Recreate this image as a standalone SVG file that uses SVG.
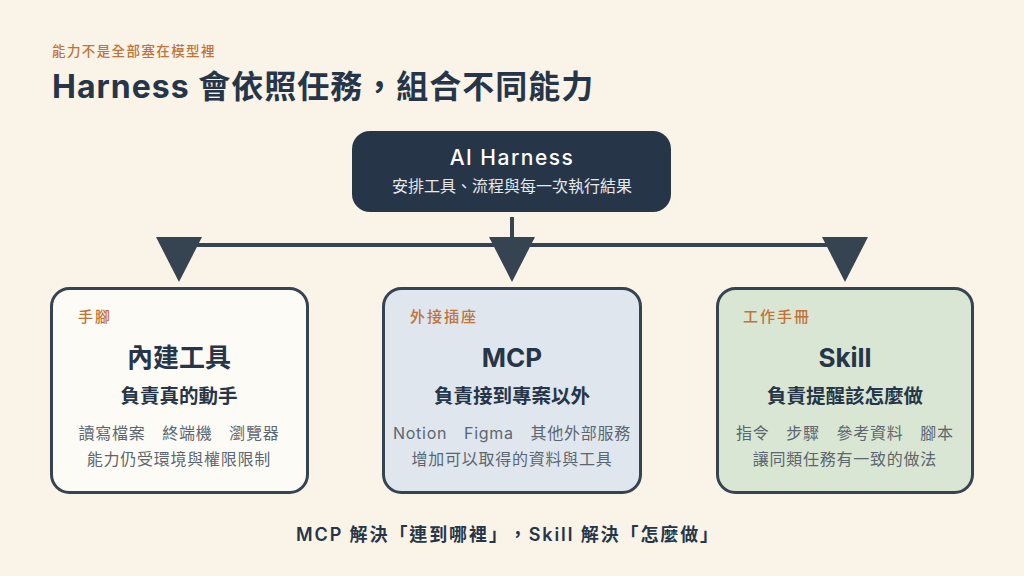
<svg xmlns="http://www.w3.org/2000/svg" width="1024" height="576" viewBox="0 0 1024 576">
<style>
text{font-family:Inter,"Noto Sans CJK TC",sans-serif;text-spacing-trim:space-all}
.kick{font-size:13.5px;fill:#c0733a;font-weight:500;letter-spacing:1.4px}
.title{font-size:32px;fill:#263648;font-weight:700;letter-spacing:1px}
.card{stroke:#364350;stroke-width:3}
.tag{font-size:15px;fill:#c0733a;font-weight:500;letter-spacing:2px}
.h{font-size:26px;fill:#263648;font-weight:700;text-anchor:middle}
.s{font-size:19.5px;fill:#263648;font-weight:700;text-anchor:middle}
.d{font-size:16px;fill:#5c6670;text-anchor:middle;letter-spacing:0.75px}
.line{stroke:#364350;stroke-width:4;fill:none}
.tri{fill:#364350}
</style>
<rect width="1024" height="576" fill="#f9f3e8"/>
<text class="kick" x="52" y="56">能力不是全部塞在模型裡</text>
<text class="title" x="52" y="98">Harness 會依照任務，組合不同能力</text>
<g id="harness">
<rect x="352" y="131" width="319" height="81" rx="18" fill="#263648"/>
<text x="512" y="165" font-size="21" font-weight="500" fill="#ffffff" text-anchor="middle" letter-spacing="1.5">AI Harness</text>
<text x="512" y="192" font-size="16" fill="#e6e8ea" text-anchor="middle">安排工具、流程與每一次執行結果</text>
</g>
<g id="connectors">
<line class="line" x1="512" y1="217" x2="512" y2="240"/>
<line class="line" x1="179" y1="245" x2="845" y2="245"/>
<polygon class="tri" points="156,237 202,237 179,282"/>
<polygon class="tri" points="489,237 535,237 512,282"/>
<polygon class="tri" points="822,237 868,237 845,282"/>
</g>
<g id="builtin">
<rect class="card" x="51.5" y="288.5" width="256" height="204" rx="18" fill="#fdfbf5"/>
<text class="tag" x="78" y="322">手腳</text>
<text class="h" x="179" y="367">內建工具</text>
<text class="s" x="179" y="403">負責真的動手</text>
<text class="d" x="179" y="439">讀寫檔案　終端機　瀏覽器</text>
<text class="d" x="179" y="465">能力仍受環境與權限限制</text>
</g>
<g id="mcp">
<rect class="card" x="383.5" y="288.5" width="257" height="204" rx="18" fill="#dfe6ee"/>
<text class="tag" x="410" y="322">外接插座</text>
<text class="h" x="512" y="367">MCP</text>
<text class="s" x="512" y="403">負責接到專案以外</text>
<text class="d" x="512" y="439">Notion　Figma　其他外部服務</text>
<text class="d" x="512" y="465">增加可以取得的資料與工具</text>
</g>
<g id="skill">
<rect class="card" x="717.5" y="288.5" width="255" height="204" rx="18" fill="#d9e6d3"/>
<text class="tag" x="743" y="322">工作手冊</text>
<text class="h" x="845" y="367">Skill</text>
<text class="s" x="845" y="403">負責提醒該怎麼做</text>
<text class="d" x="845" y="439">指令　步驟　參考資料　腳本</text>
<text class="d" x="845" y="465">讓同類任務有一致的做法</text>
</g>
<text x="508" y="541" font-size="18" font-weight="600" fill="#263648" text-anchor="middle" letter-spacing="1.9">MCP 解決「連到哪裡」，Skill 解決「怎麼做」</text>
</svg>
